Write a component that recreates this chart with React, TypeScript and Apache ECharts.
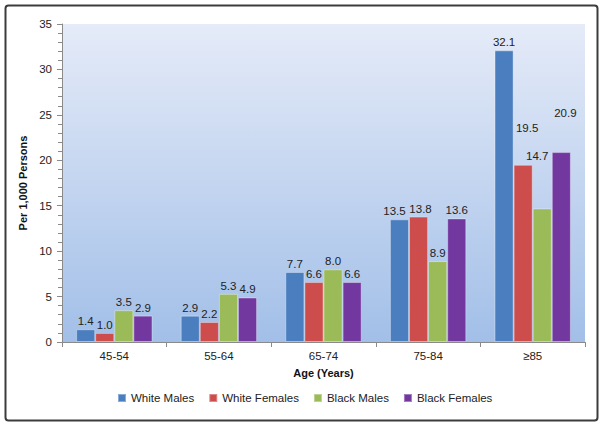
import React, { useEffect, useRef } from "react";
import * as echarts from "echarts";

const categories = ["45-54", "55-64", "65-74", "75-84", "≥85"];
const seriesNames = ["White Males", "White Females", "Black Males", "Black Females"];
const whiteMales = [1.4, 2.9, 7.7, 13.5, 32.1];
const whiteFemales = [1.0, 2.2, 6.6, 13.8, 19.5];
const blackMales = [3.5, 5.3, 8.0, 8.9, 14.7];
const blackFemales = [2.9, 4.9, 6.6, 13.6, 20.9];
const yTicks = { min: 0, max: 35, interval: 5 };

const colors = ["#4a7ebf", "#cc4d4b", "#9bbb59", "#7238a0"];
// label offsets (styling only) for crowded labels
const labelOffsets: Record<string, Record<number, [number, number]>> = {
  "White Males": { 3: [-5, 0] },
  "White Females": { 3: [2, 0], 4: [4, -29] },
  "Black Males": { 4: [-5, -44] },
  "Black Females": { 4: [4, -31] },
};

const FONT = "Liberation Sans, Arial, Helvetica, sans-serif";

export default function App() {
  const ref = useRef<HTMLDivElement>(null);
  useEffect(() => {
    document.body.style.margin = "0";
    const chart = echarts.init(ref.current!, null, { renderer: "svg" });
    const values = [whiteMales, whiteFemales, blackMales, blackFemales];
    const series = seriesNames.map((name, si) => ({
      name,
      type: "bar",
      barGap: "0%",
      barCategoryGap: "27%",
      itemStyle: {
        color: colors[si],
        borderColor: "rgba(255,255,255,0.35)",
        borderWidth: 1,
      },
      label: {
        show: true,
        position: "top",
        distance: 2,
        fontSize: 11.5,
        color: "#222",
        fontFamily: FONT,
        formatter: (p: any) => Number(p.value).toFixed(1),
      },
      data: values[si].map((v, i) => {
        const off = labelOffsets[name] && labelOffsets[name][i];
        return off ? { value: v, label: { offset: off } } : { value: v };
      }),
    }));
    chart.setOption({
      animation: false,
      backgroundColor: "#ffffff",
      textStyle: { fontFamily: FONT },
      graphic: [
        {
          type: "rect",
          shape: { x: 5.5, y: 5.5, width: 592, height: 415, r: 3 },
          style: { fill: "none", stroke: "#3c3c3c", lineWidth: 2 },
          silent: true,
          z: 100,
        },
      ],
      grid: {
        left: 62,
        right: 19,
        top: 24,
        bottom: 85,
        show: true,
        borderWidth: 0,
        backgroundColor: new echarts.graphic.LinearGradient(0, 0, 0, 1, [
          { offset: 0, color: "#e5ebf8" },
          { offset: 1, color: "#a2bfe8" },
        ]),
      },
      legend: {
        left: 112,
        bottom: 18,
        icon: "rect",
        itemWidth: 8,
        itemHeight: 8,
        itemGap: 14,
        textStyle: { fontSize: 11.5, color: "#222", fontFamily: FONT },
        data: seriesNames,
      },
      xAxis: {
        type: "category",
        data: categories,
        name: "Age (Years)",
        nameLocation: "middle",
        nameGap: 25,
        nameTextStyle: { fontWeight: "bold", fontSize: 11, color: "#111", fontFamily: FONT },
        axisLine: { lineStyle: { color: "#8a8a8a" } },
        axisTick: { show: true, length: 5, lineStyle: { color: "#8a8a8a" } },
        axisLabel: { fontSize: 11.5, color: "#222", margin: 8, fontFamily: FONT },
      },
      yAxis: {
        type: "value",
        min: yTicks.min,
        max: yTicks.max,
        interval: yTicks.interval,
        name: "Per 1,000 Persons",
        nameLocation: "middle",
        nameGap: 32,
        nameTextStyle: { fontWeight: "bold", fontSize: 11, color: "#111", fontFamily: FONT },
        axisLine: { show: true, lineStyle: { color: "#8a8a8a" } },
        axisTick: { show: true, length: 5, lineStyle: { color: "#8a8a8a" } },
        minorTick: { show: true, splitNumber: 5, length: 4, lineStyle: { color: "#8a8a8a" } },
        splitLine: { show: false },
        axisLabel: { fontSize: 11.5, color: "#222", margin: 10, fontFamily: FONT },
      },
      series,
    });
    return () => chart.dispose();
  }, []);
  return <div ref={ref} style={{ width: 604, height: 427 }} />;
}
